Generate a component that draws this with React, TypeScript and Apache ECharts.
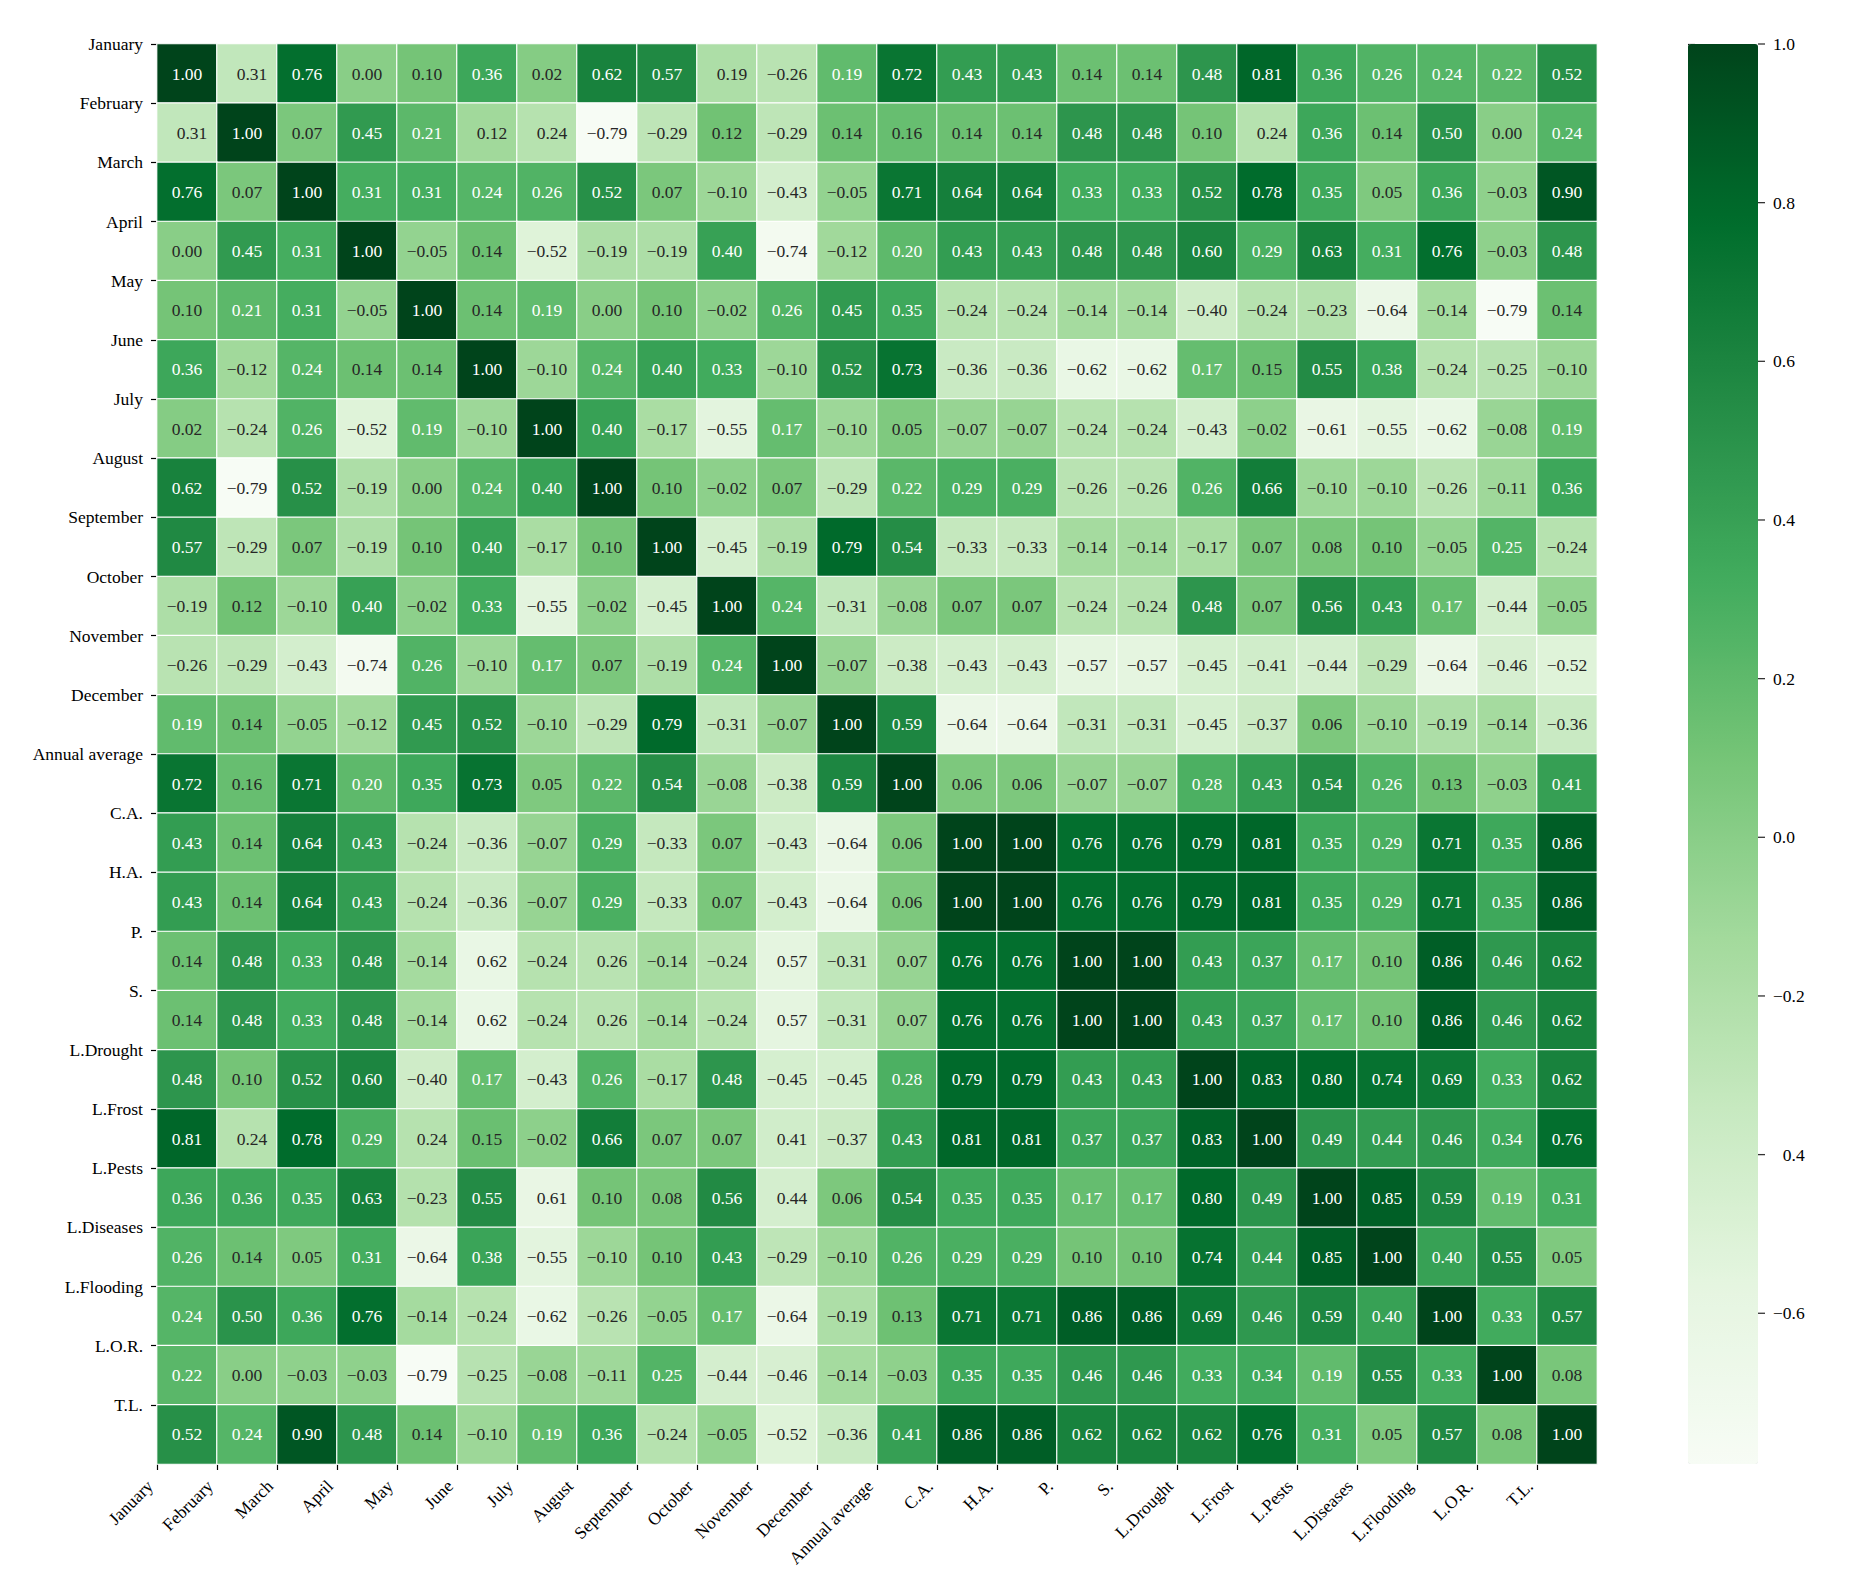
import React, { useEffect, useRef } from "react";
import * as echarts from "echarts";

const names = [
  "January", "February", "March", "April", "May", "June", "July", "August",
  "September", "October", "November", "December", "Annual average", "C.A.",
  "H.A.", "P.", "S.", "L.Drought", "L.Frost", "L.Pests", "L.Diseases",
  "L.Flooding", "L.O.R.", "T.L.",
];

const rowJan = [1.00, -0.31, 0.76, 0.00, 0.10, 0.36, 0.02, 0.62, 0.57, -0.19, -0.26, 0.19, 0.72, 0.43, 0.43, 0.14, 0.14, 0.48, 0.81, 0.36, 0.26, 0.24, 0.22, 0.52];
const rowFeb = [-0.31, 1.00, 0.07, 0.45, 0.21, -0.12, -0.24, -0.79, -0.29, 0.12, -0.29, 0.14, 0.16, 0.14, 0.14, 0.48, 0.48, 0.10, -0.24, 0.36, 0.14, 0.50, 0.00, 0.24];
const rowMar = [0.76, 0.07, 1.00, 0.31, 0.31, 0.24, 0.26, 0.52, 0.07, -0.10, -0.43, -0.05, 0.71, 0.64, 0.64, 0.33, 0.33, 0.52, 0.78, 0.35, 0.05, 0.36, -0.03, 0.90];
const rowApr = [0.00, 0.45, 0.31, 1.00, -0.05, 0.14, -0.52, -0.19, -0.19, 0.40, -0.74, -0.12, 0.20, 0.43, 0.43, 0.48, 0.48, 0.60, 0.29, 0.63, 0.31, 0.76, -0.03, 0.48];
const rowMay = [0.10, 0.21, 0.31, -0.05, 1.00, 0.14, 0.19, 0.00, 0.10, -0.02, 0.26, 0.45, 0.35, -0.24, -0.24, -0.14, -0.14, -0.40, -0.24, -0.23, -0.64, -0.14, -0.79, 0.14];
const rowJun = [0.36, -0.12, 0.24, 0.14, 0.14, 1.00, -0.10, 0.24, 0.40, 0.33, -0.10, 0.52, 0.73, -0.36, -0.36, -0.62, -0.62, 0.17, 0.15, 0.55, 0.38, -0.24, -0.25, -0.10];
const rowJul = [0.02, -0.24, 0.26, -0.52, 0.19, -0.10, 1.00, 0.40, -0.17, -0.55, 0.17, -0.10, 0.05, -0.07, -0.07, -0.24, -0.24, -0.43, -0.02, -0.61, -0.55, -0.62, -0.08, 0.19];
const rowAug = [0.62, -0.79, 0.52, -0.19, 0.00, 0.24, 0.40, 1.00, 0.10, -0.02, 0.07, -0.29, 0.22, 0.29, 0.29, -0.26, -0.26, 0.26, 0.66, -0.10, -0.10, -0.26, -0.11, 0.36];
const rowSep = [0.57, -0.29, 0.07, -0.19, 0.10, 0.40, -0.17, 0.10, 1.00, -0.45, -0.19, 0.79, 0.54, -0.33, -0.33, -0.14, -0.14, -0.17, 0.07, 0.08, 0.10, -0.05, 0.25, -0.24];
const rowOct = [-0.19, 0.12, -0.10, 0.40, -0.02, 0.33, -0.55, -0.02, -0.45, 1.00, 0.24, -0.31, -0.08, 0.07, 0.07, -0.24, -0.24, 0.48, 0.07, 0.56, 0.43, 0.17, -0.44, -0.05];
const rowNov = [-0.26, -0.29, -0.43, -0.74, 0.26, -0.10, 0.17, 0.07, -0.19, 0.24, 1.00, -0.07, -0.38, -0.43, -0.43, -0.57, -0.57, -0.45, -0.41, -0.44, -0.29, -0.64, -0.46, -0.52];
const rowDec = [0.19, 0.14, -0.05, -0.12, 0.45, 0.52, -0.10, -0.29, 0.79, -0.31, -0.07, 1.00, 0.59, -0.64, -0.64, -0.31, -0.31, -0.45, -0.37, 0.06, -0.10, -0.19, -0.14, -0.36];
const rowAA = [0.72, 0.16, 0.71, 0.20, 0.35, 0.73, 0.05, 0.22, 0.54, -0.08, -0.38, 0.59, 1.00, 0.06, 0.06, -0.07, -0.07, 0.28, 0.43, 0.54, 0.26, 0.13, -0.03, 0.41];
const rowCA = [0.43, 0.14, 0.64, 0.43, -0.24, -0.36, -0.07, 0.29, -0.33, 0.07, -0.43, -0.64, 0.06, 1.00, 1.00, 0.76, 0.76, 0.79, 0.81, 0.35, 0.29, 0.71, 0.35, 0.86];
const rowHA = [0.43, 0.14, 0.64, 0.43, -0.24, -0.36, -0.07, 0.29, -0.33, 0.07, -0.43, -0.64, 0.06, 1.00, 1.00, 0.76, 0.76, 0.79, 0.81, 0.35, 0.29, 0.71, 0.35, 0.86];
const rowP = [0.14, 0.48, 0.33, 0.48, -0.14, -0.62, -0.24, -0.26, -0.14, -0.24, -0.57, -0.31, -0.07, 0.76, 0.76, 1.00, 1.00, 0.43, 0.37, 0.17, 0.10, 0.86, 0.46, 0.62];
const rowS = [0.14, 0.48, 0.33, 0.48, -0.14, -0.62, -0.24, -0.26, -0.14, -0.24, -0.57, -0.31, -0.07, 0.76, 0.76, 1.00, 1.00, 0.43, 0.37, 0.17, 0.10, 0.86, 0.46, 0.62];
const rowLD = [0.48, 0.10, 0.52, 0.60, -0.40, 0.17, -0.43, 0.26, -0.17, 0.48, -0.45, -0.45, 0.28, 0.79, 0.79, 0.43, 0.43, 1.00, 0.83, 0.80, 0.74, 0.69, 0.33, 0.62];
const rowLF = [0.81, -0.24, 0.78, 0.29, -0.24, 0.15, -0.02, 0.66, 0.07, 0.07, -0.41, -0.37, 0.43, 0.81, 0.81, 0.37, 0.37, 0.83, 1.00, 0.49, 0.44, 0.46, 0.34, 0.76];
const rowLP = [0.36, 0.36, 0.35, 0.63, -0.23, 0.55, -0.61, 0.10, 0.08, 0.56, -0.44, 0.06, 0.54, 0.35, 0.35, 0.17, 0.17, 0.80, 0.49, 1.00, 0.85, 0.59, 0.19, 0.31];
const rowLDis = [0.26, 0.14, 0.05, 0.31, -0.64, 0.38, -0.55, -0.10, 0.10, 0.43, -0.29, -0.10, 0.26, 0.29, 0.29, 0.10, 0.10, 0.74, 0.44, 0.85, 1.00, 0.40, 0.55, 0.05];
const rowLFl = [0.24, 0.50, 0.36, 0.76, -0.14, -0.24, -0.62, -0.26, -0.05, 0.17, -0.64, -0.19, 0.13, 0.71, 0.71, 0.86, 0.86, 0.69, 0.46, 0.59, 0.40, 1.00, 0.33, 0.57];
const rowLOR = [0.22, 0.00, -0.03, -0.03, -0.79, -0.25, -0.08, -0.11, 0.25, -0.44, -0.46, -0.14, -0.03, 0.35, 0.35, 0.46, 0.46, 0.33, 0.34, 0.19, 0.55, 0.33, 1.00, 0.08];
const rowTL = [0.52, 0.24, 0.90, 0.48, 0.14, -0.10, 0.19, 0.36, -0.24, -0.05, -0.52, -0.36, 0.41, 0.86, 0.86, 0.62, 0.62, 0.62, 0.76, 0.31, 0.05, 0.57, 0.08, 1.00];

const matrix = [
  rowJan, rowFeb, rowMar, rowApr, rowMay, rowJun, rowJul, rowAug, rowSep,
  rowOct, rowNov, rowDec, rowAA, rowCA, rowHA, rowP, rowS, rowLD, rowLF,
  rowLP, rowLDis, rowLFl, rowLOR, rowTL,
];

// cells [row, col] whose minus sign is not drawn in the picture
const hiddenMinusCells = [
  [0, 1], [0, 9], [1, 0], [1, 5], [1, 6], [1, 18],
  [15, 5], [15, 7], [15, 10], [15, 12],
  [16, 5], [16, 7], [16, 10], [16, 12],
  [18, 1], [18, 4], [18, 10], [19, 6], [19, 10],
];

const colorbarTicks = [-0.6, -0.4, -0.2, 0.0, 0.2, 0.4, 0.6, 0.8, 1.0];
const colorbarHiddenMinus = [-0.4];

const VMIN = -0.79;
const VMAX = 1.0;
const GREENS = ["#f7fcf5", "#e5f5e0", "#c7e9c0", "#a1d99b", "#74c476", "#41ab5d", "#238b45", "#006d2c", "#00441b"];

const FONT = "'Liberation Serif', 'Times New Roman', serif";
const FS = 17.5;

function hexToRgb(h: string) {
  return [parseInt(h.slice(1, 3), 16), parseInt(h.slice(3, 5), 16), parseInt(h.slice(5, 7), 16)];
}

function textColorFor(v: number) {
  let t = (v - VMIN) / (VMAX - VMIN);
  t = Math.max(0, Math.min(1, t));
  const pos = t * (GREENS.length - 1);
  const i = Math.min(GREENS.length - 2, Math.floor(pos));
  const f = pos - i;
  const a = hexToRgb(GREENS[i]);
  const b = hexToRgb(GREENS[i + 1]);
  const rgb = a.map((x, k) => (x + (b[k] - x) * f) / 255);
  const lin = rgb.map((c) => (c <= 0.03928 ? c / 12.92 : Math.pow((c + 0.055) / 1.055, 2.4)));
  const L = 0.2126 * lin[0] + 0.7152 * lin[1] + 0.0722 * lin[2];
  return L > 0.408 ? "#262626" : "#ffffff";
}

export default function App() {
  const ref = useRef<HTMLDivElement>(null);

  useEffect(() => {
    if (!ref.current) return;
    const chart = echarts.init(ref.current, undefined, { renderer: "svg" });

    const hiddenSet = new Set(hiddenMinusCells.map(([r, c]) => r + "_" + c));
    const data: any[] = [];
    matrix.forEach((row, r) => {
      row.forEach((v, c) => {
        data.push({ value: [c, r, v], label: { color: textColorFor(v) } });
      });
    });

    const gridRect = { left: 157, top: 44, width: 1440, height: 1420 };
    const edgeNames = [...names, ""];

    const option: any = {
      animation: false,
      backgroundColor: "#ffffff",
      grid: [
        { ...gridRect, containLabel: false },
        { ...gridRect, containLabel: false },
        { left: 1688, top: 44, width: 70, height: 1420, containLabel: false },
      ],
      xAxis: [
        { type: "category", gridIndex: 0, data: names, show: false, position: "top" },
        {
          type: "category",
          gridIndex: 1,
          data: edgeNames,
          boundaryGap: false,
          position: "bottom",
          axisLine: { show: false },
          axisTick: {
            show: true,
            interval: (i: number) => i < names.length,
            length: 6,
            lineStyle: { color: "#000", width: 1.2 },
          },
          axisLabel: {
            interval: 0,
            rotate: 45,
            margin: 12,
            padding: [0, 10, 0, 0],
            color: "#000",
            fontFamily: FONT,
            fontSize: FS,
          },
          splitLine: { show: false },
        },
        { type: "value", gridIndex: 2, show: false, min: 0, max: 1 },
      ],
      yAxis: [
        { type: "category", gridIndex: 0, data: names, inverse: true, show: false, position: "right" },
        {
          type: "category",
          gridIndex: 1,
          data: edgeNames,
          boundaryGap: false,
          inverse: true,
          position: "left",
          axisLine: { show: false },
          axisTick: {
            show: true,
            interval: (i: number) => i < names.length,
            length: 6,
            lineStyle: { color: "#000", width: 1.2 },
          },
          axisLabel: {
            interval: 0,
            margin: 14,
            color: "#000",
            fontFamily: FONT,
            fontSize: FS,
          },
          splitLine: { show: false },
        },
        {
          type: "value",
          gridIndex: 2,
          min: VMIN,
          max: VMAX,
          position: "right",
          axisLine: { show: false },
          splitLine: { show: false },
          axisTick: {
            show: true,
            length: 7,
            customValues: colorbarTicks,
            lineStyle: { color: "#000", width: 1.2 },
          },
          axisLabel: {
            customValues: colorbarTicks,
            margin: 15,
            color: "#000",
            fontFamily: FONT,
            fontSize: FS,
            formatter: (v: number) => {
              const s = Math.abs(v).toFixed(1);
              if (colorbarHiddenMinus.some((h) => Math.abs(h - v) < 1e-6)) return "{h|\u2212}" + s;
              return v < -1e-9 ? "\u2212" + s : s;
            },
            rich: { h: { color: "rgba(0,0,0,0)", fontFamily: FONT, fontSize: FS } },
          },
        },
      ],
      visualMap: {
        type: "continuous",
        seriesIndex: 0,
        min: VMIN,
        max: VMAX,
        calculable: false,
        orient: "vertical",
        left: 1688,
        top: 44,
        padding: 0,
        itemWidth: 70,
        itemHeight: 1420,
        hoverLink: false,
        inRange: { color: GREENS },
      },
      series: [
        {
          type: "heatmap",
          xAxisIndex: 0,
          yAxisIndex: 0,
          data,
          itemStyle: { borderColor: "#ffffff", borderWidth: 1.2 },
          emphasis: { disabled: true },
          label: {
            show: true,
            fontFamily: FONT,
            fontSize: FS,
            formatter: (p: any) => {
              const [c, r, v] = p.value;
              const s = Math.abs(v).toFixed(2);
              if (hiddenSet.has(r + "_" + c)) return "{h|\u2212}" + s;
              return v < 0 ? "\u2212" + s : s;
            },
            rich: { h: { color: "rgba(0,0,0,0)", fontFamily: FONT, fontSize: FS } },
          },
        },
        {
          // colorbar tick marks, placed on the colorbar's own value axis
          type: "scatter",
          xAxisIndex: 2,
          yAxisIndex: 2,
          data: colorbarTicks.map((v) => [1, v]),
          symbol: "rect",
          symbolSize: [7, 1.3],
          symbolOffset: [3.5, 0],
          clip: false,
          silent: true,
          itemStyle: { color: "#000" },
          emphasis: { disabled: true },
        },
      ],
    };

    chart.setOption(option);
    return () => chart.dispose();
  }, []);

  return (
    <div
      ref={ref}
      style={{ position: "absolute", left: 0, top: 0, width: 1858, height: 1588, background: "#fff" }}
    />
  );
}
